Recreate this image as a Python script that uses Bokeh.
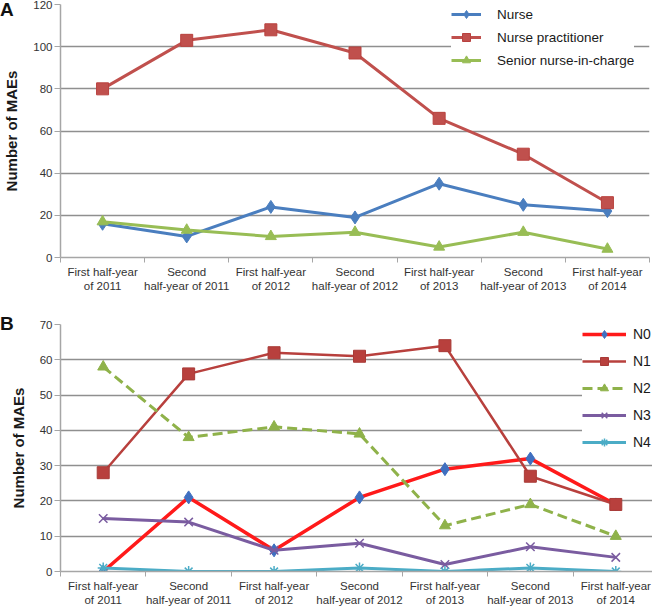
from bokeh.plotting import figure
from bokeh.layouts import column
from bokeh.models import FixedTicker, Legend, LegendItem, Range1d, Div
from bokeh.embed import file_html
from bokeh.resources import INLINE

periods = [
    "First half-year\nof 2011",
    "Second\nhalf-year of 2011",
    "First half-year\nof 2012",
    "Second\nhalf-year of 2012",
    "First half-year\nof 2013",
    "Second\nhalf-year of 2013",
    "First half-year\nof 2014",
]

# Panel A
nurse = [16, 10, 24, 19, 35, 25, 22]
nurse_practitioner = [80, 103, 108, 97, 66, 49, 26]
senior_nurse = [17, 13, 10, 12, 5, 12, 4]
yticks_a = [0, 20, 40, 60, 80, 100, 120]

# Panel B
n0 = [0, 21, 6, 21, 29, 32, 19]
n1 = [28, 56, 62, 61, 64, 27, 19]
n2 = [58, 38, 41, 39, 13, 19, 10]
n3 = [15, 14, 6, 8, 2, 7, 4]
n4 = [1, 0, 0, 1, 0, 1, 0]
yticks_b = [0, 10, 20, 30, 40, 50, 60, 70]

FONT = "Liberation Sans"
x = [i + 0.5 for i in range(len(periods))]
centers = x
bounds = list(range(len(periods) + 1))


def make_fig(frame_w, frame_h, ymax, yticks, top, bottom, right):
    p = figure(
        frame_width=frame_w, frame_height=frame_h,
        x_range=Range1d(0, len(periods)), y_range=Range1d(0, ymax),
        output_backend="svg", toolbar_location=None,
        min_border_left=48, min_border_right=right,
        min_border_top=top, min_border_bottom=bottom,
        background_fill_color="white", border_fill_alpha=0.0,
    )
    p.outline_line_color = None
    p.xgrid.grid_line_color = None
    p.ygrid.grid_line_color = "#8f8f8f"
    p.ygrid.grid_line_width = 1.3
    p.ygrid.ticker = FixedTicker(ticks=yticks)

    p.yaxis.ticker = FixedTicker(ticks=yticks)
    p.yaxis.axis_line_color = "#a6a6a6"
    p.yaxis.axis_line_width = 1.5
    p.yaxis.major_tick_line_color = "#a6a6a6"
    p.yaxis.major_tick_out = 6
    p.yaxis.major_tick_in = 0
    p.yaxis.minor_tick_line_color = None
    p.yaxis.major_label_text_font = FONT
    p.yaxis.major_label_text_font_size = "11.5px"
    p.yaxis.major_label_text_color = "#333333"
    p.yaxis.major_label_standoff = 2
    p.yaxis.axis_label = "Number of MAEs"
    p.yaxis.axis_label_text_font = FONT
    p.yaxis.axis_label_text_font_style = "bold"
    p.yaxis.axis_label_text_font_size = "15px"
    p.yaxis.axis_label_text_color = "#1a1a1a"
    p.yaxis.axis_label_standoff = 10

    p.xaxis.ticker = FixedTicker(ticks=centers, minor_ticks=bounds)
    p.xaxis.major_label_overrides = {c: lab for c, lab in zip(centers, periods)}
    p.xaxis.axis_line_color = "#a6a6a6"
    p.xaxis.axis_line_width = 1.5
    p.xaxis.major_tick_line_color = None
    p.xaxis.major_tick_out = 0
    p.xaxis.major_tick_in = 0
    p.xaxis.minor_tick_line_color = "#a6a6a6"
    p.xaxis.minor_tick_out = 5
    p.xaxis.minor_tick_in = 0
    p.xaxis.major_label_text_font = FONT
    p.xaxis.major_label_text_font_size = "11.5px"
    p.xaxis.major_label_text_color = "#333333"
    p.xaxis.major_label_standoff = 3
    return p


def panel_tag(letter, top):
    return Div(
        text=letter, width=20, height=20, margin=(top, 0, -(top + 20), 0),
        styles={"font-family": FONT, "font-weight": "bold", "font-size": "19px",
                "line-height": "20px", "color": "#111111"},
    )


# ---------- Panel A ----------
pa = make_fig(589, 253, 120, yticks_a, top=4, bottom=30, right=7)
blue, red, green = "#4a7ebf", "#c0504d", "#98bd55"
la1 = pa.line(x, nurse, line_color=blue, line_width=3)
sa1 = pa.scatter(x, nurse, marker="diamond", size=13, fill_color=blue, line_color=blue)
la2 = pa.line(x, nurse_practitioner, line_color=red, line_width=3)
sa2 = pa.scatter(x, nurse_practitioner, marker="square", size=12, fill_color=red, line_color="#b8413e")
la3 = pa.line(x, senior_nurse, line_color=green, line_width=3)
sa3 = pa.scatter(x, senior_nurse, marker="triangle", size=11, fill_color=green, line_color=green)

leg_a = Legend(
    items=[
        LegendItem(label="Nurse", renderers=[la1, sa1]),
        LegendItem(label="Nurse practitioner", renderers=[la2, sa2]),
        LegendItem(label="Senior nurse-in-charge", renderers=[la3, sa3]),
    ],
    location=(391, 187), margin=0, padding=0, spacing=3,
    glyph_width=30, glyph_height=20, label_standoff=16,
    label_text_font=FONT, label_text_font_size="13.5px", label_text_color="#1a1a1a",
    border_line_color=None, background_fill_color="white", background_fill_alpha=1.0,
)
pa.add_layout(leg_a)

# ---------- Panel B ----------
pb = make_fig(598, 247, 70, yticks_b, top=30, bottom=30, right=0)
c_n0, c_n0m, c_n1, c_n2, c_n3, c_n4 = "#ff1a1a", "#3f6fc0", "#b8403d", "#8fb24a", "#7a5ca0", "#4bacc6"
lb0 = pb.line(x, n0, line_color=c_n0, line_width=3.5)
sb0 = pb.scatter(x, n0, marker="diamond", size=13, fill_color=c_n0m, line_color=c_n0m)
lb1 = pb.line(x, n1, line_color=c_n1, line_width=2.5)
sb1 = pb.scatter(x, n1, marker="square", size=12, fill_color=c_n1, line_color="#a83a37")
lb2 = pb.line(x, n2, line_color=c_n2, line_width=3, line_dash="10 5")
sb2 = pb.scatter(x, n2, marker="triangle", size=11, fill_color=c_n2, line_color=c_n2)
lb3 = pb.line(x, n3, line_color=c_n3, line_width=3)
sb3 = pb.scatter(x, n3, marker="x", size=12, line_color=c_n3, line_width=1.5)
lb4 = pb.line(x, n4, line_color=c_n4, line_width=3)
sb4 = pb.scatter(x, n4, marker="asterisk", size=11, line_color=c_n4, line_width=1.5)

leg_b = Legend(
    items=[
        LegendItem(label="N0", renderers=[lb0, sb0]),
        LegendItem(label="N1", renderers=[lb1, sb1]),
        LegendItem(label="N2", renderers=[lb2, sb2]),
        LegendItem(label="N3", renderers=[lb3, sb3]),
        LegendItem(label="N4", renderers=[lb4, sb4]),
    ],
    location=(528, 119), margin=0, padding=0, spacing=7,
    glyph_width=44, glyph_height=20, label_standoff=7,
    label_text_font=FONT, label_text_font_size="14px", label_text_color="#1a1a1a",
    border_line_color=None, background_fill_color="white", background_fill_alpha=1.0,
)
pb.add_layout(leg_b)

layout = column(panel_tag("A", 0), pa, panel_tag("B", 20), pb, spacing=0)
open("out.html", "w").write(file_html(layout, INLINE))
